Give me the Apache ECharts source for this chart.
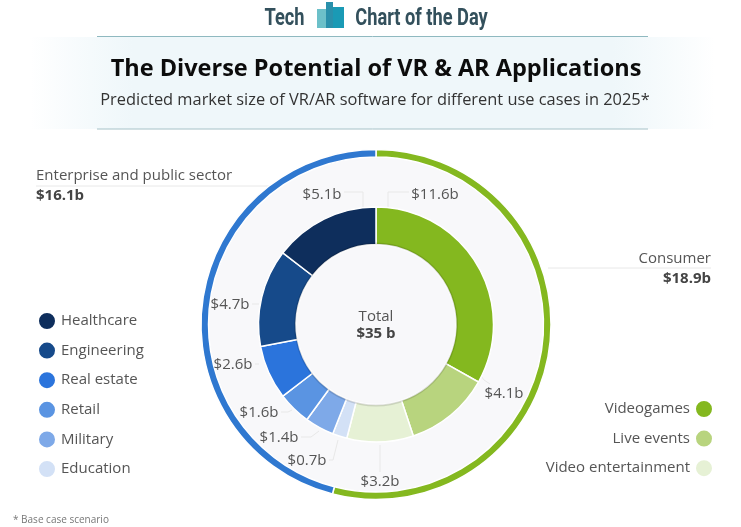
<!DOCTYPE html>
<html><head><meta charset="utf-8">
<style>html,body{margin:0;padding:0;background:#fff}#c{width:741px;height:527px}</style>
<script src="https://cdn.jsdelivr.net/npm/echarts@6/dist/echarts.min.js"></script>
</head><body><div id="c"></div>
<script>
const categories = ['Videogames','Live events','Video entertainment','Education','Military','Retail','Real estate','Engineering','Healthcare'];
const values = [11.6,4.1,3.2,0.7,1.4,1.6,2.6,4.7,5.1];
const colors = ['#84b81f','#b8d47e','#e6f1d5','#d3e1f6','#7ea9e8','#5a94e2','#2b74dc','#164a8a','#0e2e5c'];
const groups = ['Consumer','Enterprise and public sector'];
const groupValues = [18.9,16.1];
const groupColors = ['#84b81f','#2f78d0'];
const total = 35;
const legendLeft = ['Healthcare','Engineering','Real estate','Retail','Military','Education'];
const legendRight = ['Videogames','Live events','Video entertainment'];

// label placement: [x, y, leader line points]
const labelPlaces = [
  [435,195,[[388,208],[388,192],[409,192]]],
  [504,394,[[478,372],[484,380],[490,384]]],
  [380,482,[[380,445],[380,472]]],
  [307,461,[[338,440],[333,460],[329,460]]],
  [279,438,[[319,431],[311,437],[301,437]]],
  [259,413,[[292,410],[288,412],[281,412]]],
  [233,365,[[259,364],[255,364]]],
  [230,305,[[259,304],[252,304]]],
  [322,195,[[363,208],[363,192],[344,192]]]
];
const groupPlaces = [
  [711,269,'right',[[548,268],[711,268]]],
  [36,186,'left',[[270,186],[36,186]]]
];
const centerPos = [376, 324.5];

const ch = echarts.init(document.getElementById('c'), null, {renderer:'canvas'});
const font = '"Open Sans", sans-serif';
const narrow = 'Roboto, sans-serif';
ch.setOption({
  animation:false,
  backgroundColor:'#fff',
  legend:[
    {data:legendLeft,orient:'vertical',left:37,top:311,padding:0,itemWidth:18,itemHeight:18,itemGap:9.6,icon:'circle',
     selectedMode:false,textStyle:{fontFamily:font,fontSize:15,color:'#555'}},
    {data:legendRight,orient:'vertical',right:27,top:399,padding:0,align:'right',itemWidth:18,itemHeight:18,itemGap:9.6,icon:'circle',
     selectedMode:false,textStyle:{fontFamily:font,fontSize:15,color:'#555'}}
  ],
  graphic:[
    {type:'rect',silent:true,z:-1,shape:{x:30,y:37,width:685,height:92},
     style:{fill:{type:'linear',x:0,y:0,x2:1,y2:0,colorStops:[{offset:0,color:'rgba(236,246,250,0)'},{offset:.15,color:'#eff7fa'},{offset:.85,color:'#eff7fa'},{offset:1,color:'rgba(236,246,250,0)'}]}}},
    {type:'line',silent:true,shape:{x1:97,y1:36.5,x2:648,y2:36.5},style:{stroke:'#8fb9c0',lineWidth:1}},
    {type:'line',silent:true,shape:{x1:97,y1:129,x2:648,y2:129},style:{stroke:'#a6c2c8',lineWidth:1}},
    {type:'rect',silent:true,shape:{x:317,y:9,width:10,height:19},style:{fill:'#6cc0c9'}},
    {type:'rect',silent:true,shape:{x:326,y:2,width:7,height:26},style:{fill:'#2a90ab'}},
    {type:'rect',silent:true,shape:{x:333,y:7,width:11,height:21},style:{fill:'#1a9ab5'}},
    {type:'text',silent:true,x:284.5,y:19,scaleX:.76,style:{x:0,y:0,text:'Tech',align:'center',verticalAlign:'middle',font:'bold 24px '+narrow,fill:'#33505c'}},
    {type:'text',silent:true,x:421.5,y:19,scaleX:.76,style:{x:0,y:0,text:'Chart of the Day',align:'center',verticalAlign:'middle',font:'bold 24px '+narrow,fill:'#33505c'}},
    {type:'text',silent:true,style:{x:376,y:69,text:'The Diverse Potential of VR & AR Applications',align:'center',verticalAlign:'middle',font:'bold 23.5px '+font,fill:'#0c0c0c'}},
    {type:'text',silent:true,style:{x:375,y:100,text:'Predicted market size of VR/AR software for different use cases in 2025*',align:'center',verticalAlign:'middle',font:'16.4px '+font,fill:'#333'}},
    {type:'text',silent:true,z:20,style:{x:376,y:317,text:'Total',align:'center',verticalAlign:'middle',font:'15px '+font,fill:'#555'}},
    {type:'text',silent:true,z:20,style:{x:376,y:334,text:'$'+total+' b',align:'center',verticalAlign:'middle',font:'bold 15px '+font,fill:'#444'}},
    {type:'text',silent:true,style:{x:13,y:520,text:'* Base case scenario',align:'left',verticalAlign:'middle',font:'10px '+font,fill:'#777'}}
  ],
  series:[
    {type:'pie',silent:true,z:1,center:centerPos,radius:[0,168],label:{show:false},labelLine:{show:false},
     data:[{name:'bg',value:total,itemStyle:{color:'#f8f8fa'}}]},
    {type:'pie',silent:true,z:2,center:centerPos,radius:[167.5,175],startAngle:90,clockwise:true,
     itemStyle:{borderColor:'#fff',borderWidth:1.5},
     data:groups.map((n,i)=>({name:n,value:groupValues[i],itemStyle:{color:groupColors[i]}})),
     label:{show:true,position:'outside',overflow:'none',
       formatter:p=>'{n|'+p.name+'}\n{v|$'+p.value.toFixed(1)+'b}',
       rich:{n:{fontFamily:font,fontSize:15,color:'#555',lineHeight:20},v:{fontFamily:font,fontSize:15,fontWeight:'bold',color:'#444',lineHeight:20}}},
     labelLine:{show:true,lineStyle:{color:'#e8e8e8',width:1}},
     labelLayout:p=>{const g=groupPlaces[p.dataIndex];return {x:g[0],y:g[1],align:g[2],verticalAlign:'middle',labelLinePoints:g[3]};}},
    {type:'pie',silent:true,z:3,center:centerPos,radius:[80,117.5],startAngle:90,clockwise:true,
     itemStyle:{borderColor:'#fff',borderWidth:1.5},
     data:categories.map((n,i)=>({name:n,value:values[i],itemStyle:{color:colors[i]}})),
     label:{show:true,position:'outside',overflow:'none',formatter:p=>'$'+p.value.toFixed(1)+'b',fontFamily:font,fontSize:15,color:'#555'},
     labelLine:{show:true,lineStyle:{color:'#e8e8e8',width:1}},
     labelLayout:p=>{const g=labelPlaces[p.dataIndex];return {x:g[0],y:g[1],align:'center',verticalAlign:'middle',labelLinePoints:g[2]};}},
    {type:'pie',silent:true,z:4,center:centerPos,radius:[80,82],label:{show:false},labelLine:{show:false},
     data:[{name:'edge',value:total,itemStyle:{color:'rgba(0,0,0,0.12)'}}]}
  ]
});
</script></body></html>
